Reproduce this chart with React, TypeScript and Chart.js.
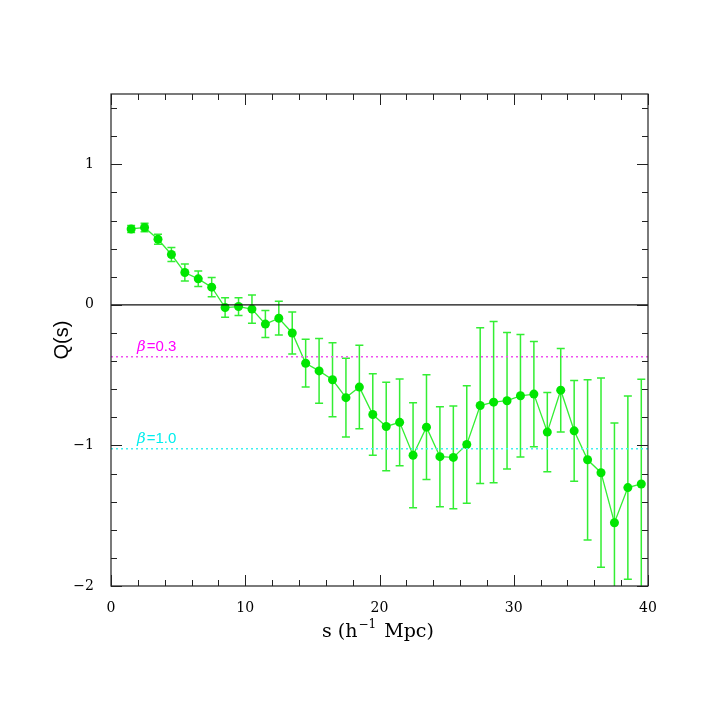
import React, { useEffect, useRef } from "react";
import { Chart, registerables } from "chart.js";

Chart.register(...registerables);

// separation s (h^-1 Mpc)
const S = [1.5, 2.5, 3.5, 4.5, 5.5, 6.5, 7.5, 8.5, 9.5, 10.5, 11.5, 12.5, 13.5,
  14.5, 15.5, 16.5, 17.5, 18.5, 19.5, 20.5, 21.5, 22.5, 23.5, 24.5, 25.5,
  26.5, 27.5, 28.5, 29.5, 30.5, 31.5, 32.5, 33.5, 34.5, 35.5, 36.5, 37.5, 38.5, 39.5];
// Q(s)
const Q = [0.54, 0.55, 0.467, 0.358, 0.23, 0.185, 0.126, -0.019, -0.012, -0.03, -0.137, -0.095, -0.2,
  -0.415, -0.47, -0.533, -0.66, -0.585, -0.78, -0.865, -0.836, -1.07, -0.87, -1.08, -1.085,
  -0.993, -0.716, -0.692, -0.682, -0.647, -0.635, -0.905, -0.607, -0.896, -1.102, -1.194, -1.55, -1.3, -1.274];
// 1-sigma errors
const ERR = [0.025, 0.03, 0.036, 0.05, 0.06, 0.055, 0.068, 0.07, 0.063, 0.1, 0.096, 0.12, 0.15,
  0.17, 0.23, 0.263, 0.28, 0.297, 0.29, 0.315, 0.308, 0.374, 0.372, 0.356, 0.366,
  0.418, 0.554, 0.573, 0.486, 0.436, 0.375, 0.282, 0.297, 0.358, 0.57, 0.673, 0.71, 0.652, 0.744];

// model predictions
const BETA_LABELS = ["0.3", "1.0"];
const BETA_Q = [-0.37, -1.023];
const BETA_COLORS = ["#f050f0", "#40f0f0"];
const BETA_TEXT_COLORS = ["#ff00ff", "#00eeee"];

const X_MIN = 0, X_MAX = 40, Y_MIN = -2, Y_MAX = 1.5;
const X_MAJOR = [0, 10, 20, 30, 40];
const Y_MAJOR = [-2, -1, 0, 1];

const POINT_COLOR = "#00e600";
const LINE_COLOR = "#33ee33";
const SERIF = "'DejaVu Serif', 'Liberation Serif', serif";

const overlayPlugin = {
  id: "overlay",
  beforeDatasetsDraw(chart: any) {
    const { ctx, chartArea: a, scales } = chart;
    const x = scales.x, y = scales.y;
    ctx.save();
    ctx.beginPath();
    ctx.rect(a.left, a.top, a.right - a.left, a.bottom - a.top);
    ctx.clip();
    ctx.strokeStyle = LINE_COLOR;
    ctx.lineWidth = 1.5;
    S.forEach((s, i) => {
      const px = x.getPixelForValue(s);
      const t = y.getPixelForValue(Q[i] + ERR[i]);
      const b = y.getPixelForValue(Q[i] - ERR[i]);
      ctx.beginPath();
      ctx.moveTo(px, t); ctx.lineTo(px, b);
      ctx.moveTo(px - 4, t); ctx.lineTo(px + 4, t);
      ctx.moveTo(px - 4, b); ctx.lineTo(px + 4, b);
      ctx.stroke();
    });
    ctx.restore();
  },
  afterDatasetsDraw(chart: any) {
    const { ctx, chartArea: a, scales } = chart;
    const x = scales.x, y = scales.y;
    ctx.save();
    // frame
    ctx.strokeStyle = "#222";
    ctx.lineWidth = 1.2;
    ctx.strokeRect(a.left, a.top, a.right - a.left, a.bottom - a.top);
    ctx.lineWidth = 1;
    // x ticks
    for (let k = 0; k <= 20; k++) {
      const v = X_MIN + k * 2;
      const px = Math.round(x.getPixelForValue(v)) + 0.5;
      const len = X_MAJOR.includes(v) ? 11 : 6;
      ctx.beginPath();
      ctx.moveTo(px, a.bottom); ctx.lineTo(px, a.bottom - len);
      ctx.moveTo(px, a.top); ctx.lineTo(px, a.top + len);
      ctx.stroke();
    }
    // y ticks
    for (let k = 0; k <= 17; k++) {
      const v = Y_MIN + k * 0.2;
      const py = Math.round(y.getPixelForValue(v)) + 0.5;
      const isMajor = Y_MAJOR.some((m) => Math.abs(m - v) < 1e-6);
      const len = isMajor ? 11 : 6;
      ctx.beginPath();
      ctx.moveTo(a.left, py); ctx.lineTo(a.left + len, py);
      ctx.moveTo(a.right, py); ctx.lineTo(a.right - len, py);
      ctx.stroke();
    }
    // beta labels
    ctx.textBaseline = "alphabetic";
    ctx.textAlign = "left";
    BETA_LABELS.forEach((lab, i) => {
      const py = y.getPixelForValue(BETA_Q[i]) - 6;
      ctx.fillStyle = BETA_TEXT_COLORS[i];
      ctx.font = "italic 15px 'DejaVu Serif', serif";
      let px = 137;
      ctx.fillText("\u03B2", px, py);
      px += ctx.measureText("\u03B2").width + 1;
      ctx.font = "15px 'Liberation Sans', sans-serif";
      ctx.fillText("=" + lab, px, py);
    });
    // axis titles
    ctx.fillStyle = "#000";
    const big = "19px " + SERIF;
    const small = "12px " + SERIF;
    const p1 = "s (h", p2 = "\u22121", p3 = " Mpc)";
    ctx.font = big;
    const w1 = ctx.measureText(p1).width;
    const w3 = ctx.measureText(p3).width;
    ctx.font = small;
    const w2 = ctx.measureText(p2).width + 2;
    const total = w1 + w2 + w3;
    let cx = (a.left + a.right) / 2 - total / 2 - 2;
    const base = 637;
    ctx.font = big; ctx.fillText(p1, cx, base); cx += w1 + 1;
    ctx.font = small; ctx.fillText(p2, cx, base - 9); cx += w2;
    ctx.font = big; ctx.fillText(p3, cx, base);
    // y title
    ctx.save();
    ctx.translate(68, (a.top + a.bottom) / 2);
    ctx.rotate(-Math.PI / 2);
    ctx.textAlign = "center";
    ctx.font = "20px 'Liberation Sans', sans-serif";
    ctx.fillText("Q(s)", 0, 0);
    ctx.restore();
    ctx.restore();
  },
};

export default function App() {
  const ref = useRef<HTMLCanvasElement>(null);
  useEffect(() => {
    if (!ref.current) return;
    const chart = new Chart(ref.current, {
      type: "scatter",
      data: {
        datasets: [
          {
            label: "zero",
            data: [{ x: X_MIN, y: 0 }, { x: X_MAX, y: 0 }],
            showLine: true,
            borderColor: "#111",
            borderWidth: 1.2,
            pointRadius: 0,
          },
          ...BETA_LABELS.map((lab, i) => ({
            label: "beta=" + lab,
            data: [{ x: X_MIN, y: BETA_Q[i] }, { x: X_MAX, y: BETA_Q[i] }],
            showLine: true,
            borderColor: BETA_COLORS[i],
            borderWidth: 1.5,
            borderDash: [2, 3],
            pointRadius: 0,
          })),
          {
            label: "Q(s)",
            data: S.map((s, i) => ({ x: s, y: Q[i] })),
            showLine: true,
            borderColor: LINE_COLOR,
            borderWidth: 1.3,
            pointRadius: 4.5,
            pointBackgroundColor: POINT_COLOR,
            pointBorderColor: POINT_COLOR,
            pointBorderWidth: 0,
          },
        ],
      },
      options: {
        animation: false,
        responsive: false,
        layout: { padding: { left: 0, top: 94, right: 71, bottom: 0 } },
        plugins: { legend: { display: false }, tooltip: { enabled: false } },
        scales: {
          x: {
            type: "linear",
            min: X_MIN,
            max: X_MAX,
            grid: { display: false },
            border: { display: false },
            ticks: {
              stepSize: 10,
              padding: 6,
              color: "#000",
              maxRotation: 0,
              font: { size: 14, family: SERIF },
              callback: (v: any) => (X_MAJOR.includes(Number(v)) ? String(v) : ""),
            },
            afterFit: (s: any) => { s.height = 132; },
          },
          y: {
            type: "linear",
            min: Y_MIN,
            max: Y_MAX,
            grid: { display: false },
            border: { display: false },
            ticks: {
              stepSize: 1,
              padding: 9,
              color: "#000",
              font: { size: 14, family: SERIF },
              callback: (v: any) =>
                Y_MAJOR.includes(Number(v)) ? (Number(v) < 0 ? "\u2212" + Math.abs(Number(v)) : String(v)) : "",
            },
            afterFit: (s: any) => { s.width = 111; },
          },
        },
      },
      plugins: [overlayPlugin],
    });
    return () => chart.destroy();
  }, []);
  return (
    <div style={{ position: "absolute", left: 0, top: 0, width: 719, height: 718, background: "#fff" }}>
      <canvas ref={ref} width={719} height={718} style={{ width: 719, height: 718 }} />
    </div>
  );
}
